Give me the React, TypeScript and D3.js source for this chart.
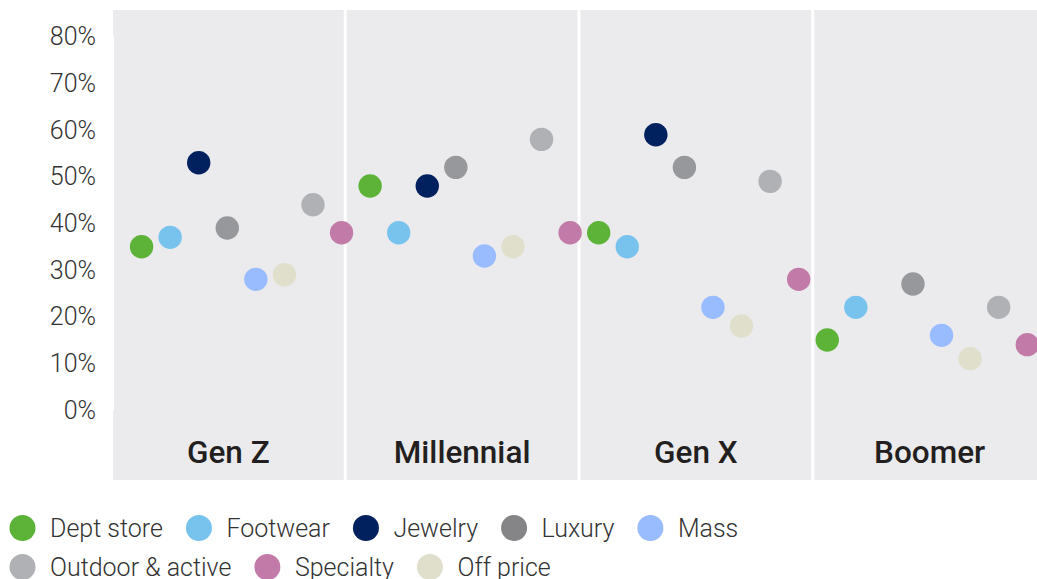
import React, { useEffect, useRef } from "react";
import * as d3 from "d3";

const GROUPS = ["Gen Z", "Millennial", "Gen X", "Boomer"];
const SERIES = ["Dept store", "Footwear", "Jewelry", "Luxury", "Mass", "Off price", "Outdoor & active", "Specialty"];
const COLORS = ["#5cb338", "#77c3ee", "#00205e", "#97989b", "#99bbff", "#e0dfcc", "#b0b1b4", "#c27ba8"];
// legend order differs from plotting order
const LEGEND = ["Dept store", "Footwear", "Jewelry", "Luxury", "Mass", "Outdoor & active", "Specialty", "Off price"];
const LEGEND_COLOR: Record<string, string> = {
  "Dept store": "#5cb338",
  Footwear: "#77c3ee",
  Jewelry: "#00205e",
  Luxury: "#858588",
  Mass: "#99bbff",
  "Outdoor & active": "#b0b1b4",
  Specialty: "#c27ba8",
  "Off price": "#e0dfcc",
};

// values in %, one array per generation, in SERIES order (null = no value)
const GEN_Z = [35, 37, 53, 39, 28, 29, 44, 38];
const MILLENNIAL = [48, 38, 48, 52, 33, 35, 58, 38];
const GEN_X = [38, 35, 59, 52, 22, 18, 49, 28];
const BOOMER = [15, 22, null, 27, 16, 11, 22, 14];
const VALUES = [GEN_Z, MILLENNIAL, GEN_X, BOOMER];

const Y_TICKS = [0, 10, 20, 30, 40, 50, 60, 70, 80];

const W = 1037;
const H = 579;

export default function App() {
  const svgRef = useRef<SVGSVGElement>(null);

  useEffect(() => {
    const svg = d3.select(svgRef.current);
    svg.selectAll("*").remove();

    const left = 113;
    const y = d3.scaleLinear().domain([0, 80]).range([410, 36.7]);

    // panels
    const band = d3.scaleBand().domain(GROUPS).range([left, 1045]).paddingInner(0.013);
    svg.append("g")
      .selectAll("rect")
      .data(GROUPS)
      .enter()
      .append("rect")
      .attr("x", d => band(d)!)
      .attr("y", 10)
      .attr("width", band.bandwidth())
      .attr("height", 470)
      .attr("fill", "#ebebed");

    // thin white axis line
    svg.append("line")
      .attr("x1", left + 0.5).attr("x2", left + 0.5)
      .attr("y1", y(80)).attr("y2", y(0))
      .attr("stroke", "#fff").attr("stroke-width", 1);

    // y tick labels
    svg.append("g")
      .selectAll("text")
      .data(Y_TICKS)
      .enter()
      .append("text")
      .attr("x", 96)
      .attr("y", d => y(d))
      .attr("dy", "0.35em")
      .attr("text-anchor", "end")
      .attr("font-family", "Roboto")
      .attr("font-weight", 300)
      .attr("font-size", 25)
      .attr("fill", "#333")
      .text(d => `${d}%`);

    // group labels
    svg.append("g")
      .selectAll("text")
      .data(GROUPS)
      .enter()
      .append("text")
      .attr("x", d => band(d)! + band.bandwidth() / 2)
      .attr("y", 462.5)
      .attr("text-anchor", "middle")
      .attr("font-family", "Roboto")
      .attr("font-weight", 500)
      .attr("font-size", 31.5)
      .attr("fill", "#231f20")
      .text(d => d);

    // points on a continuous slot axis
    const x = d3.scaleLinear().domain([0, 32]).range([left, left + 32 * 28.57]);
    const pts: { slot: number; v: number; color: string }[] = [];
    VALUES.forEach((arr, g) =>
      arr.forEach((v, i) => {
        if (v != null) pts.push({ slot: g * SERIES.length + i + 1, v, color: COLORS[i] });
      })
    );
    svg.append("g")
      .selectAll("circle")
      .data(pts)
      .enter()
      .append("circle")
      .attr("cx", d => x(d.slot))
      .attr("cy", d => y(d.v))
      .attr("r", 11.7)
      .attr("fill", d => d.color);

    // legend
    const rows = [LEGEND.slice(0, 5), LEGEND.slice(5)];
    const rowY = [528, 567];
    rows.forEach((items, r) => {
      let cx = 22.5;
      items.forEach(name => {
        const g = svg.append("g");
        g.append("circle")
          .attr("cx", cx)
          .attr("cy", rowY[r])
          .attr("r", 13)
          .attr("fill", LEGEND_COLOR[name]);
        const t = g.append("text")
          .attr("x", cx + 27.5)
          .attr("y", rowY[r])
          .attr("dy", "0.35em")
          .attr("font-family", "Roboto")
          .attr("font-weight", 300)
          .attr("font-size", 25)
          .attr("fill", "#333")
          .text(name);
        const len = (t.node() as SVGTextElement).getComputedTextLength();
        cx = cx + 27.5 + len + 36;
      });
    });
  }, []);

  return (
    <svg
      ref={svgRef}
      width={W}
      height={H}
      style={{ position: "absolute", left: 0, top: 0, background: "#fff" }}
    />
  );
}
